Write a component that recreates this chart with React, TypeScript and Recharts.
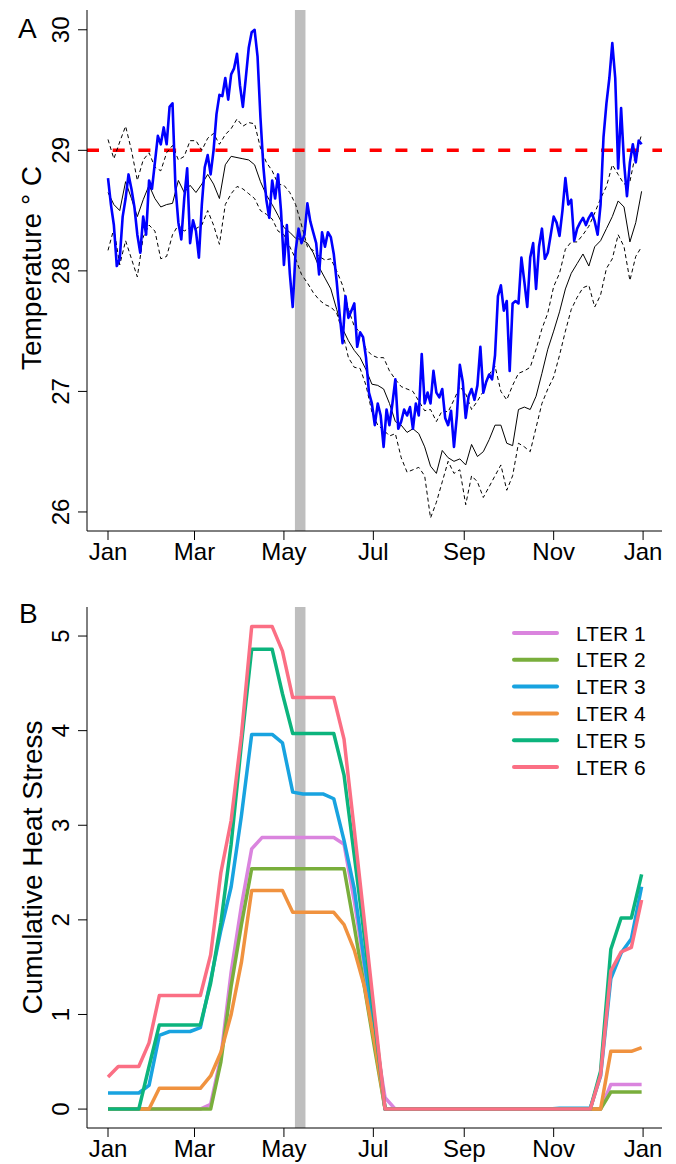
import React from 'react';
import { LineChart, Line, XAxis, YAxis, ReferenceLine, ReferenceArea } from 'recharts';

const FONT = '"Liberation Sans", Arial, sans-serif';

// x axis: day of year
const monthTicks = [0, 59, 120, 181, 243, 304, 365];
const monthLabels = ['Jan', 'Mar', 'May', 'Jul', 'Sep', 'Nov', 'Jan'];
const tempTicks = [26, 27, 28, 29, 30];
const stressTicks = [0, 1, 2, 3, 4, 5];
const thresholdTemp = 29;
const bandStart = 127.5;
const bandEnd = 134.7;

// panel A: observed daily temperature, sampled every 2 days
const blueStep = 2;
const blueTemp = [
  28.77, 28.55, 28.38, 28.04, 28.1, 28.45, 28.6, 28.8, 28.68, 28.53,
  28.3, 28.15, 28.45, 28.3, 28.75, 28.68, 28.9, 29.12, 29.05, 29.19,
  29.05, 29.36, 29.39, 28.7, 28.4, 28.26, 28.6, 28.85, 28.23, 28.42,
  28.33, 28.11, 28.55, 28.86, 28.96, 28.8, 29.0, 29.3, 29.46, 29.45,
  29.6, 29.42, 29.63, 29.68, 29.8, 29.54, 29.36, 29.6, 29.85, 29.98,
  30.0, 29.78, 29.27, 28.86, 28.59, 28.44, 28.75, 28.6, 28.8, 28.5,
  28.05, 28.38, 27.98, 27.7, 28.17, 28.35, 28.23, 28.3, 28.56, 28.41,
  28.32, 28.23, 27.97, 28.32, 28.2, 28.32, 28.28, 28.14, 27.91, 27.64,
  27.4, 27.79, 27.61, 27.67, 27.73, 27.37, 27.49, 27.45, 27.28, 26.99,
  26.9, 26.72, 26.9, 26.8, 26.54, 26.85, 26.72, 26.9, 27.1, 26.69,
  26.75, 26.85, 26.8, 26.87, 26.69, 26.9, 26.8, 27.31, 26.9, 26.99,
  26.9, 27.17, 26.99, 26.95, 27.02, 26.78, 26.72, 26.84, 26.54, 26.8,
  27.22, 27.08, 26.78, 26.96, 27.02, 26.93, 27.05, 27.37, 26.99, 27.08,
  27.14, 27.1, 27.3, 27.79, 27.88, 27.67, 27.75, 27.17, 27.73, 27.75,
  27.73, 28.11, 27.91, 27.7, 28.11, 28.23, 27.85, 28.2, 28.35, 28.1,
  28.15, 28.3, 28.45, 28.4, 28.29, 28.5, 28.77, 28.55, 28.59, 28.25,
  28.35, 28.4, 28.44, 28.38, 28.44, 28.48, 28.41, 28.3, 28.55, 29.11,
  29.39, 29.6, 29.89, 29.6, 28.85, 29.35, 28.9, 28.62, 28.9, 29.05,
  28.9, 29.08, 29.05,
];

// panel A: climatology mean and bounds, every 4 days
const climStep = 4;
const meanTemp = [
  28.65, 28.55, 28.5, 28.74, 28.6, 28.45, 28.59, 28.71, 28.6, 28.53,
  28.55, 28.56, 28.75, 28.65, 28.71, 28.65, 28.72, 28.8, 28.72, 28.6,
  28.88, 28.95, 28.94, 28.93, 28.92, 28.88, 28.74, 28.63, 28.55, 28.46,
  28.36, 28.32, 28.27, 28.26, 28.23, 28.15, 28.03, 27.94, 27.85, 27.68,
  27.52, 27.42, 27.34, 27.28, 27.18, 27.06, 27.05, 27.02, 26.9, 26.75,
  26.72, 26.66, 26.69, 26.65, 26.54, 26.38, 26.32, 26.51, 26.45, 26.42,
  26.44, 26.39, 26.56, 26.46, 26.5, 26.6, 26.72, 26.72, 26.57, 26.55,
  26.85, 26.87, 26.85, 26.96, 27.15, 27.35, 27.5, 27.66, 27.85, 27.98,
  28.06, 28.14, 28.04, 28.2, 28.25, 28.35, 28.45, 28.58, 28.53, 28.24,
  28.4, 28.66,
];
const upperTemp = [
  29.09, 28.93, 29.07, 29.2, 29.0, 28.75, 28.92, 28.98, 28.86, 28.83,
  28.98, 29.04, 28.92, 28.95, 29.08, 29.08, 29.0, 29.1, 29.14, 29.05,
  29.13, 29.18, 29.26, 29.2, 29.23, 29.22, 29.02, 28.9, 28.83, 28.72,
  28.71, 28.65, 28.55, 28.38, 28.2, 28.17, 28.12, 28.09, 28.1, 28.0,
  27.88, 27.68, 27.54, 27.49, 27.35, 27.3, 27.28, 27.28, 27.17, 27.1,
  27.04, 27.02, 27.0, 26.92, 26.84, 26.85, 26.75, 26.84, 26.83, 26.93,
  27.04, 26.98, 26.85, 26.92, 27.0, 27.14, 27.21, 27.0, 26.93, 27.05,
  27.15, 27.17, 27.2, 27.35, 27.52, 27.65, 27.87, 27.98, 28.18, 28.24,
  28.24, 28.3, 28.37, 28.48, 28.6, 28.7, 28.88, 28.8, 28.72, 28.74,
  28.98, 29.13,
];
const lowerTemp = [
  28.17, 28.35, 28.05, 28.25, 28.1, 27.95, 28.28, 28.38, 28.33, 28.1,
  28.12, 28.3, 28.38, 28.33, 28.36, 28.35, 28.38, 28.5, 28.38, 28.22,
  28.55, 28.64, 28.7, 28.68, 28.64, 28.6, 28.5, 28.47, 28.43, 28.33,
  28.3, 28.2, 28.1, 27.97, 27.9, 27.82, 27.76, 27.72, 27.7, 27.65,
  27.49, 27.28, 27.2, 27.19, 27.05, 26.83, 26.72, 26.68, 26.63, 26.65,
  26.45, 26.33, 26.35, 26.37, 26.3, 25.95, 26.08, 26.25, 26.42, 26.32,
  26.35, 26.06, 26.3, 26.25, 26.12, 26.21, 26.3, 26.39, 26.18, 26.3,
  26.57, 26.54, 26.5, 26.7, 26.9, 27.02, 27.12, 27.3, 27.5, 27.68,
  27.78, 27.86, 27.88, 27.7, 27.8, 28.02, 28.1, 28.3, 28.2, 27.92,
  28.12, 28.2,
];

// panel B: weekly cumulative heat stress per site
const weekStep = 7;
const lter1 = [
  0, 0, 0, 0, 0, 0, 0, 0, 0, 0,
  0.05, 0.55, 1.45, 2.15, 2.75, 2.87, 2.87, 2.87, 2.87, 2.87,
  2.87, 2.87, 2.87, 2.8, 2.2, 1.5, 0.8, 0.12, 0, 0,
  0, 0, 0, 0, 0, 0, 0, 0, 0, 0,
  0, 0, 0, 0, 0, 0, 0, 0, 0, 0.26,
  0.26, 0.26, 0.26,
];
const lter2 = [
  0, 0, 0, 0, 0, 0, 0, 0, 0, 0,
  0, 0.5, 1.3, 1.95, 2.54, 2.54, 2.54, 2.54, 2.54, 2.54,
  2.54, 2.54, 2.54, 2.54, 1.93, 1.28, 0.63, 0, 0, 0,
  0, 0, 0, 0, 0, 0, 0, 0, 0, 0,
  0, 0, 0, 0, 0, 0, 0, 0, 0, 0.18,
  0.18, 0.18, 0.18,
];
const lter3 = [
  0.17, 0.17, 0.17, 0.17, 0.25, 0.78, 0.82, 0.82, 0.82, 0.86,
  1.36, 1.89, 2.35, 3.1, 3.96, 3.96, 3.96, 3.87, 3.35, 3.33,
  3.33, 3.33, 3.28, 2.84, 2.33, 1.54, 0.83, 0, 0, 0,
  0, 0, 0, 0, 0, 0, 0, 0, 0, 0,
  0, 0, 0, 0, 0.01, 0.01, 0.01, 0.01, 0.35, 1.38,
  1.65, 1.8, 2.35,
];
const lter4 = [
  0, 0, 0, 0, 0, 0.22, 0.22, 0.22, 0.22, 0.22,
  0.35, 0.6, 1.0, 1.55, 2.31, 2.31, 2.31, 2.31, 2.08, 2.08,
  2.08, 2.08, 2.08, 1.95, 1.68, 1.29, 0.69, 0, 0, 0,
  0, 0, 0, 0, 0, 0, 0, 0, 0, 0,
  0, 0, 0, 0, 0, 0, 0, 0, 0, 0.61,
  0.61, 0.61, 0.65,
];
const lter5 = [
  0, 0, 0, 0, 0.45, 0.89, 0.89, 0.89, 0.89, 0.89,
  1.33, 1.97, 2.8, 3.86, 4.86, 4.86, 4.86, 4.39, 3.97, 3.97,
  3.97, 3.97, 3.97, 3.53, 2.68, 1.81, 0.91, 0, 0, 0,
  0, 0, 0, 0, 0, 0, 0, 0, 0, 0,
  0, 0, 0, 0, 0, 0, 0, 0, 0.4, 1.69,
  2.02, 2.02, 2.48,
];
const lter6 = [
  0.34, 0.45, 0.45, 0.45, 0.7, 1.2, 1.2, 1.2, 1.2, 1.2,
  1.63, 2.5, 3.05, 3.95, 5.1, 5.1, 5.1, 4.84, 4.35, 4.35,
  4.35, 4.35, 4.35, 3.91, 2.95, 1.97, 0.98, 0, 0, 0,
  0, 0, 0, 0, 0, 0, 0, 0, 0, 0,
  0, 0, 0, 0, 0, 0, 0, 0, 0.36, 1.46,
  1.66, 1.71, 2.21,
];

const sites = [
  { name: 'LTER 1', color: '#da84de', values: lter1 },
  { name: 'LTER 2', color: '#79ae3c', values: lter2 },
  { name: 'LTER 3', color: '#18a3e0', values: lter3 },
  { name: 'LTER 4', color: '#f0923f', values: lter4 },
  { name: 'LTER 5', color: '#0cb47d', values: lter5 },
  { name: 'LTER 6', color: '#fb6f84', values: lter6 },
];

const RotatedTick = (props: any) => {
  const { x, y, payload } = props;
  return (
    <text
      x={x}
      y={y}
      transform={`rotate(-90 ${x} ${y})`}
      textAnchor="middle"
      fontSize={24}
      fontFamily={FONT}
      fill="#000"
    >
      {payload.value}
    </text>
  );
};

const monthFormatter = (d: number) => monthLabels[monthTicks.indexOf(d)] ?? '';

const xAxisProps = {
  type: 'number' as const,
  dataKey: 'day',
  domain: [-14.33, 377.9],
  ticks: monthTicks,
  tickFormatter: monthFormatter,
  allowDataOverflow: true,
  height: 30,
  tickSize: 9,
  tickMargin: 3,
  stroke: '#000',
  tick: { fontSize: 24, fill: '#000', fontFamily: FONT },
  interval: 0 as const,
};

export default function App() {
  const blueData = blueTemp.map((t, i) => ({ day: i * blueStep, temp: t }));
  const climData = meanTemp.map((m, i) => ({
    day: i * climStep,
    mean: m,
    upper: upperTemp[i],
    lower: lowerTemp[i],
  }));
  const stressData = lter1.map((_, i) => {
    const row: any = { day: i * weekStep };
    sites.forEach((s, k) => {
      row['s' + k] = s.values[i];
    });
    return row;
  });

  return (
    <div style={{ position: 'absolute', left: 0, top: 0, width: 676, height: 1164, background: '#fff' }}>
      <div style={{ position: 'absolute', left: 0, top: 0 }}>
        <LineChart width={676} height={580} margin={{ top: 10, right: 14, bottom: 19, left: 0 }}>
          <ReferenceArea x1={bandStart} x2={bandEnd} fill="#bebebe" fillOpacity={1} stroke="none" />
          <XAxis {...xAxisProps} />
          <YAxis
            type="number"
            domain={[25.842, 30.164]}
            ticks={tempTicks}
            allowDataOverflow
            width={87}
            tickSize={9}
            tickMargin={9}
            stroke="#000"
            tick={<RotatedTick />}
            interval={0}
          />
          <ReferenceLine
            y={thresholdTemp}
            stroke="#ff0000"
            strokeWidth={3.5}
            strokeDasharray="12 13.7"
          />
          <Line data={climData} dataKey="upper" stroke="#000" strokeWidth={1} strokeDasharray="4 3" dot={false} activeDot={false} isAnimationActive={false} />
          <Line data={climData} dataKey="lower" stroke="#000" strokeWidth={1} strokeDasharray="4 3" dot={false} activeDot={false} isAnimationActive={false} />
          <Line data={climData} dataKey="mean" stroke="#000" strokeWidth={1} dot={false} activeDot={false} isAnimationActive={false} />
          <Line data={blueData} dataKey="temp" stroke="#0000ff" strokeWidth={2.6} strokeLinejoin="round" dot={false} activeDot={false} isAnimationActive={false} />
        </LineChart>
      </div>
      <div style={{ position: 'absolute', left: 0, top: 580 }}>
        <LineChart width={676} height={584} data={stressData} margin={{ top: 27, right: 14, bottom: 6, left: 0 }}>
          <ReferenceArea x1={bandStart} x2={bandEnd} fill="#bebebe" fillOpacity={1} stroke="none" />
          <XAxis {...xAxisProps} />
          <YAxis
            type="number"
            domain={[-0.2, 5.307]}
            ticks={stressTicks}
            allowDataOverflow
            width={87}
            tickSize={9}
            tickMargin={9}
            stroke="#000"
            tick={<RotatedTick />}
            interval={0}
          />
          {sites.map((s, k) => (
            <Line
              key={s.name}
              dataKey={'s' + k}
              stroke={s.color}
              strokeWidth={3.5}
              strokeLinejoin="round"
              dot={false}
              activeDot={false}
              isAnimationActive={false}
            />
          ))}
        </LineChart>
      </div>
      <svg
        width={676}
        height={1164}
        style={{ position: 'absolute', left: 0, top: 0, pointerEvents: 'none' }}
        fontFamily={FONT}
      >
        <text x={18} y={37.5} fontSize={28} fill="#000">A</text>
        <text x={19} y={623} fontSize={28} fill="#000">B</text>
        <text transform="translate(41 268) rotate(-90)" textAnchor="middle" fontSize={28} fill="#000">
          Temperature ° C
        </text>
        <text transform="translate(42 867.5) rotate(-90)" textAnchor="middle" fontSize={28} fill="#000">
          Cumulative Heat Stress
        </text>
        {sites.map((s, k) => {
          const cy = 633 + k * 26.8;
          return (
            <g key={s.name}>
              <line x1={514} x2={557} y1={cy} y2={cy} stroke={s.color} strokeWidth={4} strokeLinecap="round" />
              <text x={576} y={cy + 7.5} fontSize={21} fill="#000">{s.name}</text>
            </g>
          );
        })}
      </svg>
    </div>
  );
}
